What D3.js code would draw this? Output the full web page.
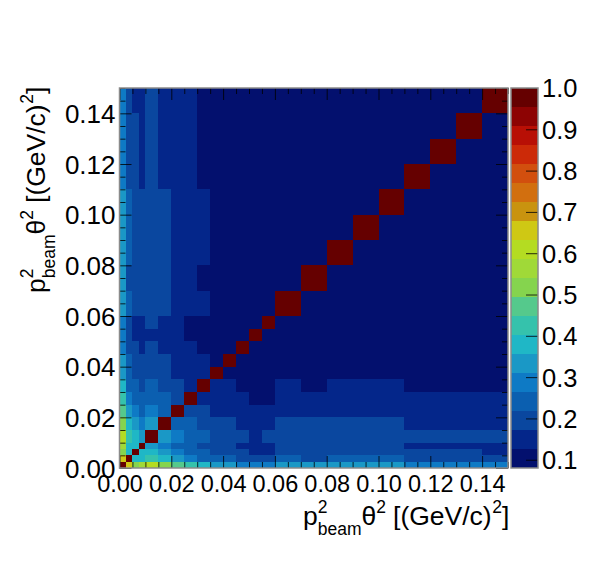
<!DOCTYPE html>
<html>
<head>
<meta charset="utf-8">
<script src="https://cdn.jsdelivr.net/npm/d3@7"></script>
<style>
  html, body { margin: 0; padding: 0; background: #fff; }
  svg { display: block; }
  text { font-family: "Liberation Sans", Arial, sans-serif; fill: #000; }
</style>
</head>
<body>
<div id="chart"></div>
<script>
// variable bin edges, same on both axes
var binEdges = [0, 0.0025, 0.005, 0.0075, 0.01, 0.015, 0.02, 0.025, 0.03, 0.035, 0.04, 0.045,
  0.05, 0.055, 0.06, 0.07, 0.08, 0.09, 0.10, 0.11, 0.12, 0.13, 0.14, 0.15];

// correlation, lower triangle only, the matrix is symmetric
var corrRows = [
  [1.0],
  [0.66, 1.0],
  [0.52, 0.38, 1.0],
  [0.56, 0.38, 0.38, 1.0],
  [0.61, 0.43, 0.38, 0.33, 1.0],
  [0.52, 0.38, 0.33, 0.29, 0.33, 1.0],
  [0.47, 0.33, 0.29, 0.24, 0.29, 0.24, 1.0],
  [0.43, 0.29, 0.24, 0.24, 0.24, 0.24, 0.20, 1.0],
  [0.38, 0.24, 0.24, 0.20, 0.24, 0.20, 0.20, 0.15, 1.0],
  [0.33, 0.24, 0.20, 0.20, 0.20, 0.20, 0.15, 0.15, 0.15, 1.0],
  [0.33, 0.24, 0.20, 0.20, 0.20, 0.20, 0.15, 0.15, 0.15, 0.10, 1.0],
  [0.29, 0.20, 0.20, 0.15, 0.20, 0.15, 0.15, 0.15, 0.10, 0.10, 0.10, 1.0],
  [0.29, 0.20, 0.15, 0.15, 0.15, 0.15, 0.15, 0.10, 0.10, 0.10, 0.10, 0.10, 1.0],
  [0.29, 0.20, 0.15, 0.15, 0.20, 0.15, 0.15, 0.10, 0.10, 0.10, 0.10, 0.10, 0.10, 1.0],
  [0.33, 0.24, 0.20, 0.20, 0.20, 0.20, 0.15, 0.15, 0.15, 0.10, 0.10, 0.10, 0.10, 0.10, 1.0],
  [0.33, 0.20, 0.20, 0.20, 0.20, 0.20, 0.15, 0.15, 0.10, 0.10, 0.10, 0.10, 0.10, 0.10, 0.10, 1.0],
  [0.33, 0.24, 0.20, 0.20, 0.20, 0.20, 0.15, 0.15, 0.15, 0.10, 0.10, 0.10, 0.10, 0.10, 0.10, 0.10, 1.0],
  [0.33, 0.24, 0.20, 0.20, 0.20, 0.20, 0.15, 0.15, 0.15, 0.10, 0.10, 0.10, 0.10, 0.10, 0.10, 0.10, 0.10, 1.0],
  [0.33, 0.24, 0.20, 0.20, 0.20, 0.20, 0.15, 0.15, 0.15, 0.10, 0.10, 0.10, 0.10, 0.10, 0.10, 0.10, 0.10, 0.10, 1.0],
  [0.29, 0.20, 0.20, 0.15, 0.20, 0.15, 0.15, 0.15, 0.10, 0.10, 0.10, 0.10, 0.10, 0.10, 0.10, 0.10, 0.10, 0.10, 0.10, 1.0],
  [0.29, 0.20, 0.20, 0.15, 0.20, 0.15, 0.15, 0.15, 0.10, 0.10, 0.10, 0.10, 0.10, 0.10, 0.10, 0.10, 0.10, 0.10, 0.10, 0.10, 1.0],
  [0.29, 0.20, 0.20, 0.15, 0.20, 0.15, 0.15, 0.15, 0.10, 0.10, 0.10, 0.10, 0.10, 0.10, 0.10, 0.10, 0.10, 0.10, 0.10, 0.10, 0.10, 1.0],
  [0.29, 0.20, 0.15, 0.15, 0.20, 0.15, 0.15, 0.15, 0.10, 0.10, 0.10, 0.10, 0.10, 0.10, 0.10, 0.10, 0.10, 0.10, 0.10, 0.10, 0.10, 0.10, 1.0]
];

var axisMajorTicks = [0, 0.02, 0.04, 0.06, 0.08, 0.10, 0.12, 0.14];
var axisMinorTicks = [0.005, 0.01, 0.015, 0.025, 0.03, 0.035, 0.045, 0.05, 0.055, 0.065, 0.07, 0.075,
  0.085, 0.09, 0.095, 0.105, 0.11, 0.115, 0.125, 0.13, 0.135, 0.145, 0.15];
var colorTicks = [0.1, 0.2, 0.3, 0.4, 0.5, 0.6, 0.7, 0.8, 0.9, 1.0];
var colorDomain = [0.08, 1.0];

// 20 contour levels of the colour bar, bottom to top
var palette = ["#03106e", "#04268a", "#0a479f", "#0b5fb0", "#0e7ac5", "#1a98c6", "#1fb7c6", "#35c2ac",
  "#55c98c", "#85d44e", "#a0d938", "#b4dc22", "#cfc814", "#c9930f", "#d26f0f", "#d24f0e",
  "#cc2a08", "#b80f05", "#8d0303", "#650000"];

var width = 598;
var height = 586;
var frame = { left: 119.5, right: 508, top: 88, bottom: 468 };
var bar = { left: 511, right: 538 };

var svg = d3.select("#chart").append("svg")
  .attr("width", width)
  .attr("height", height);

var xScale = d3.scaleLinear().domain([0, 0.15]).range([frame.left, frame.right]);
var yScale = d3.scaleLinear().domain([0, 0.15]).range([frame.bottom, frame.top]);
var zScale = d3.scaleLinear().domain(colorDomain).range([frame.bottom, frame.top]);
var colorScale = d3.scaleQuantize().domain(colorDomain).range(palette);

/* Cells */
var cells = [];
corrRows.forEach(function(row, i) {
  row.forEach(function(v, j) {
    cells.push({ col: j, row: i, value: v });
    if (i !== j) cells.push({ col: i, row: j, value: v });
  });
});

svg.append("g")
  .selectAll("rect")
  .data(cells).enter()
  .append("rect")
  .attr("x", d => xScale(binEdges[d.col]))
  .attr("y", d => yScale(binEdges[d.row + 1]))
  .attr("width", d => xScale(binEdges[d.col + 1]) - xScale(binEdges[d.col]))
  .attr("height", d => yScale(binEdges[d.row]) - yScale(binEdges[d.row + 1]))
  .attr("shape-rendering", "crispEdges")
  .attr("fill", d => colorScale(d.value));

/* Colour bar */
svg.append("g")
  .selectAll("rect")
  .data(palette).enter()
  .append("rect")
  .attr("x", bar.left)
  .attr("width", bar.right - bar.left)
  .attr("y", d => zScale(colorScale.invertExtent(d)[1]))
  .attr("height", d => zScale(colorScale.invertExtent(d)[0]) - zScale(colorScale.invertExtent(d)[1]))
  .attr("shape-rendering", "crispEdges")
  .attr("fill", d => d);

/* Axes, ticks point inwards on all four sides */
function addAxis(axisFn, scale, ticks, size, pos, labels) {
  var ax = axisFn(scale).tickValues(ticks).tickSize(-size).tickSizeOuter(0);
  ax.tickFormat(labels ? d3.format(labels) : "");
  var g = svg.append("g")
    .attr("transform", `translate(${pos[0]}, ${pos[1]})`)
    .call(ax);
  g.select(".domain").remove();
  g.selectAll(".tick line").attr("stroke", "#000").attr("stroke-width", 1).attr("opacity", 0.8);
  return g;
}

var xLabels = addAxis(d3.axisBottom, xScale, axisMajorTicks, 12, [0, frame.bottom], ".2f");
xLabels.selectAll("text")
  .attr("y", 24)
  .attr("dy", 0)
  .style("font-family", '"Liberation Sans"')
  .style("font-size", "23.5px");
addAxis(d3.axisBottom, xScale, axisMinorTicks, 6, [0, frame.bottom]);
addAxis(d3.axisTop, xScale, axisMajorTicks, 12, [0, frame.top]);
addAxis(d3.axisTop, xScale, axisMinorTicks, 6, [0, frame.top]);

var yLabels = addAxis(d3.axisLeft, yScale, axisMajorTicks, 12, [frame.left, 0], ".2f");
yLabels.selectAll("text")
  .attr("x", -4)
  .attr("dy", "0.35em")
  .style("font-family", '"Liberation Sans"')
  .style("font-size", "26px");
addAxis(d3.axisLeft, yScale, axisMinorTicks, 6, [frame.left, 0]);
addAxis(d3.axisRight, yScale, axisMajorTicks, 12, [frame.right, 0]);
addAxis(d3.axisRight, yScale, axisMinorTicks, 6, [frame.right, 0]);

var zLabels = addAxis(d3.axisRight, zScale, colorTicks, 12, [bar.right, 0], ".1f");
zLabels.selectAll("text")
  .attr("x", 4)
  .attr("dy", "0.35em")
  .style("font-family", '"Liberation Sans"')
  .style("font-size", "25.5px");

/* Frames */
[[frame.left, frame.right], [bar.left, bar.right]].forEach(function(f) {
  svg.append("rect")
    .attr("x", f[0])
    .attr("y", frame.top)
    .attr("width", f[1] - f[0])
    .attr("height", frame.bottom - frame.top)
    .attr("fill", "none")
    .attr("stroke", "#8a8a8a")
    .attr("stroke-width", 1.5);
});

/* Axis titles, pieces placed one after the other from the left end */
function drawTitle(g) {
  var big = "26.5px", small = "17.5px";
  var x = -205;

  function put(txt, size, dy) {
    return g.append("text").attr("x", x).attr("y", dy).style("font-size", size).text(txt);
  }
  function len(t) { return t.node().getComputedTextLength(); }

  x += len(put("p", big, 0));
  put("2", small, -12);
  x += len(put("beam", small, 10));
  x += len(put("\u03b8", big, 0));
  x += len(put("2", small, -12));
  x += 7;
  x += len(put("[(GeV/c)", big, 0)) + 0.5;
  x += len(put("2", small, -12));
  put("]", big, 0);
}

drawTitle(svg.append("g").attr("transform", "translate(508, 525)"));
drawTitle(svg.append("g").attr("transform", "translate(45, 88) rotate(-90)"));
</script>
</body>
</html>
